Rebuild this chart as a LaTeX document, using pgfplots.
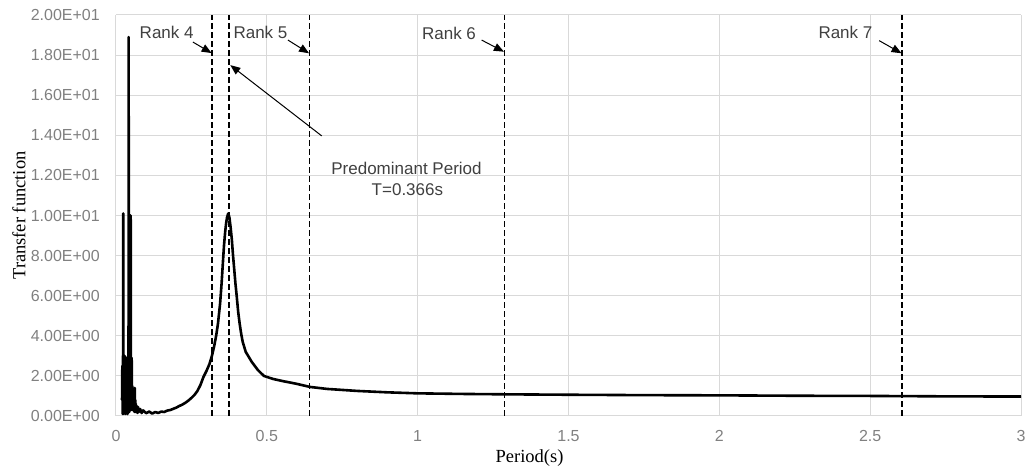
\documentclass[border=0pt]{standalone}
\usepackage{fontspec}
\setmainfont{Liberation Serif}
\newfontfamily\sansf{Liberation Sans}
\usepackage{pgfplots}
\pgfplotsset{compat=1.18}
\usetikzlibrary{arrows.meta}
\definecolor{gridc}{RGB}{217,217,217}
\definecolor{tickc}{RGB}{128,128,128}
\definecolor{annc}{RGB}{64,64,64}
\begin{document}
\begin{tikzpicture}
\begin{axis}[
  scale only axis, width=905pt, height=401pt,
  xmin=0, xmax=3, ymin=0, ymax=20,
  clip=false,
  axis line style={draw=none},
  major tick length=0pt,
  xtick={0,0.5,1,1.5,2,2.5,3},
  xticklabels={0,0.5,1,1.5,2,2.5,3},
  ytick={0,2,4,6,8,10,12,14,16,18,20},
  yticklabels={0.00E+00,2.00E+00,4.00E+00,6.00E+00,8.00E+00,1.00E+01,1.20E+01,1.40E+01,1.60E+01,1.80E+01,2.00E+01},
  grid=major,
  major grid style={gridc, line width=1pt},
  ticklabel style={font=\sansf\fontsize{16}{19}\selectfont, text=tickc},
  yticklabel style={anchor=east, inner sep=0pt, xshift=-16pt},
  xticklabel style={anchor=north, inner sep=0pt, yshift=-14pt},
  xlabel={Period(s)},
  ylabel={Transfer function},
  label style={font=\fontsize{18.5}{22}\selectfont, text=black},
  xlabel style={at={(rel axis cs:0.457,0)}, anchor=center, yshift=-42pt},
  ylabel style={at={(rel axis cs:0,0.5)}, anchor=center, yshift=97pt},
]
% invisible frame for bounding box
\path (rel axis cs:0,0) ++(-116pt,-55pt) coordinate (bbl);
\path (rel axis cs:1,1) ++(5pt,15pt) coordinate (btr);
\path (bbl) rectangle (btr);

% dashed reference lines
\addplot[black, line width=1.3pt, dash pattern=on 6pt off 3pt] coordinates {(0.318,0) (0.318,20)};
\addplot[black, line width=1.6pt, dash pattern=on 6pt off 3pt] coordinates {(0.374,0) (0.374,20)};
\addplot[black, line width=1.3pt, dash pattern=on 6pt off 3pt] coordinates {(0.641,0) (0.641,20)};
\addplot[black, line width=1.3pt, dash pattern=on 6pt off 3pt] coordinates {(1.288,0) (1.288,20)};
\addplot[black, line width=1.3pt, dash pattern=on 6pt off 3pt] coordinates {(2.606,0) (2.606,20)};

% transfer function
\addplot[black, line width=2.6pt, line join=round] coordinates {
(0.020,0.8) (0.021,2.5) (0.022,0.1) (0.023,3.0) (0.0235,0.2) (0.024,10.1) (0.0245,0.3)
(0.025,2.8) (0.026,0.1) (0.027,2.2) (0.028,0.5) (0.029,3.0) (0.030,0.2) (0.031,2.5)
(0.032,0.1) (0.033,2.0) (0.034,0.3) (0.035,2.9) (0.036,0.2) (0.037,1.8) (0.038,0.1)
(0.039,2.5) (0.040,0.2) (0.041,3.0) (0.0415,0.5) (0.042,18.9) (0.0425,0.3) (0.043,2.9)
(0.044,0.2) (0.045,2.6) (0.046,0.3) (0.047,3.0) (0.0475,0.4) (0.048,10.0) (0.0485,0.3)
(0.049,9.8) (0.0495,0.4) (0.050,2.9) (0.051,0.4) (0.052,2.9) (0.053,0.3) (0.054,1.5) (0.055,0.3)
(0.056,1.4) (0.057,0.3) (0.058,1.3) (0.059,0.3) (0.060,1.3) (0.061,0.2) (0.062,1.4)
(0.063,0.3) (0.064,0.8) (0.065,0.2) (0.066,0.6) (0.067,0.2) (0.069,0.5) (0.071,0.15)
(0.073,0.45) (0.076,0.2) (0.08,0.35) (0.085,0.15) (0.09,0.28) (0.10,0.14) (0.11,0.22)
(0.12,0.12) (0.13,0.2) (0.14,0.15) (0.15,0.22) (0.16,0.2) (0.17,0.27) (0.18,0.3)
(0.19,0.36) (0.20,0.42) (0.21,0.5) (0.22,0.57) (0.23,0.66) (0.24,0.77) (0.25,0.9)
(0.26,1.05) (0.27,1.25) (0.28,1.55) (0.29,1.95) (0.30,2.25) (0.31,2.6) (0.318,3.0)
(0.325,3.45) (0.332,4.0) (0.338,4.6) (0.345,5.6) (0.350,6.6) (0.355,7.8) (0.358,8.5)
(0.362,9.2) (0.365,9.6) (0.368,9.9) (0.372,10.1) (0.376,9.9) (0.380,9.4) (0.384,8.8)
(0.388,8.0) (0.392,7.3) (0.396,6.6) (0.40,6.0) (0.405,5.2) (0.41,4.6) (0.415,4.1)
(0.42,3.7) (0.425,3.45) (0.43,3.2) (0.44,2.95) (0.45,2.7) (0.46,2.5) (0.47,2.3)
(0.49,2.0) (0.52,1.85) (0.55,1.75) (0.60,1.6) (0.643,1.45) (0.70,1.35) (0.80,1.25)
(0.90,1.18) (1.0,1.13) (1.15,1.1) (1.3,1.08) (1.5,1.06) (1.75,1.04) (2.0,1.03)
(2.25,1.01) (2.5,1.0) (2.75,0.98) (3.0,0.97)
};

% annotations
\tikzset{ann/.style={font=\sansf\fontsize{17}{20}\selectfont, text=annc, inner sep=0pt},
         arr/.style={black, line width=1pt, -{Triangle[length=10pt,width=8pt]}}}
\node[ann] at (axis cs:0.168,19.15) {Rank 4};
\draw[arr] (axis cs:0.255,18.65) -- (axis cs:0.317,18.1);
\node[ann] at (axis cs:0.479,19.15) {Rank 5};
\draw[arr] (axis cs:0.570,18.75) -- (axis cs:0.640,18.09);
\node[ann] at (axis cs:1.104,19.1) {Rank 6};
\draw[arr] (axis cs:1.212,18.75) -- (axis cs:1.286,18.17);
\node[ann] at (axis cs:2.418,19.15) {Rank 7};
\draw[arr] (axis cs:2.530,18.72) -- (axis cs:2.604,18.09);
\draw[arr] (axis cs:0.682,13.97) -- (axis cs:0.379,17.5);
\node[ann] at (axis cs:0.963,12.37) {Predominant Period};
\node[ann] at (axis cs:0.966,11.27) {T=0.366s};
\end{axis}
\end{tikzpicture}
\end{document}
